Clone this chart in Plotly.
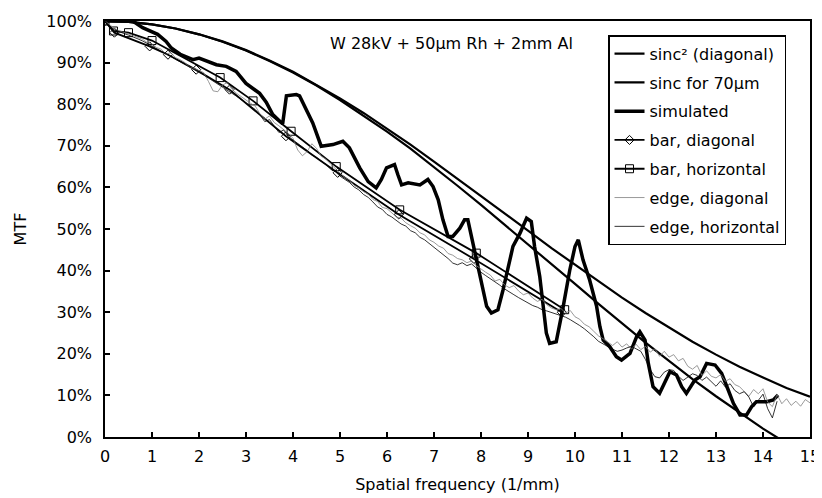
import numpy as np
import plotly.graph_objects as go

# ---------------- data ----------------
freq_sinc = [0, 0.5, 1, 1.5, 2, 2.5, 3, 3.5, 4, 4.5, 5, 5.5, 6, 6.5, 7, 7.5, 8, 8.5, 9, 9.5,
             10, 10.5, 11, 11.5, 12, 12.5, 13, 13.5, 14, 14.5, 15]
sinc2_diag = [1.0, 0.998, 0.992, 0.982, 0.968, 0.951, 0.930, 0.905, 0.878, 0.847, 0.814, 0.779,
              0.742, 0.703, 0.662, 0.621, 0.580, 0.538, 0.496, 0.454, 0.414, 0.374, 0.335,
              0.298, 0.263, 0.229, 0.198, 0.169, 0.143, 0.118, 0.097]
freq_sinc70 = [0, 0.5, 1, 1.5, 2, 2.5, 3, 3.5, 4, 4.5, 5, 5.5, 6, 6.5, 7, 7.5, 8, 8.5, 9, 9.5,
               10, 10.5, 11, 11.5, 12, 12.5, 13, 13.5, 14, 14.5]
sinc_70um = [1.0, 0.998, 0.992, 0.982, 0.968, 0.950, 0.929, 0.904, 0.876, 0.845, 0.810, 0.773,
             0.734, 0.693, 0.649, 0.604, 0.558, 0.511, 0.464, 0.416, 0.368, 0.320, 0.273,
             0.227, 0.183, 0.139, 0.098, 0.058, 0.020, -0.015]

freq_sim = [0, 0.3, 0.59, 0.8, 1.12, 1.3, 1.41, 1.6, 1.87, 2.0, 2.37, 2.58, 2.79, 3.0, 3.15, 3.29,
            3.43, 3.57, 3.72, 3.78, 3.86, 4.07, 4.14, 4.25, 4.42, 4.6, 4.85, 5.06, 5.2, 5.42, 5.6,
            5.77, 5.88, 5.99, 6.16, 6.23, 6.31, 6.45, 6.7, 6.87, 6.98, 7.09, 7.19, 7.3, 7.4, 7.55,
            7.65, 7.72, 7.8, 7.9, 8.01, 8.12, 8.22, 8.36, 8.47, 8.58, 8.68, 8.83, 8.97, 9.07, 9.14,
            9.25, 9.32, 9.39, 9.46, 9.6, 9.75, 9.89, 10.0, 10.07, 10.17, 10.31, 10.46, 10.53, 10.6,
            10.74, 10.88, 10.99, 11.17, 11.31, 11.38, 11.49, 11.56, 11.66, 11.8, 11.91, 12.02,
            12.16, 12.27, 12.37, 12.44, 12.55, 12.66, 12.8, 12.98, 13.12, 13.26, 13.37, 13.51,
            13.65, 13.76, 13.86, 14.08, 14.22, 14.32]
simulated = [100, 100, 100, 98.4, 96.8, 95.1, 93.5, 92.0, 90.7, 91.1, 89.5, 89.1, 87.9, 85.0, 83.7,
             82.6, 80.5, 77.5, 75.9, 75.3, 82.0, 82.3, 82.0, 79.5, 75.5, 69.9, 70.3, 71.1, 69.5,
             64.7, 61.4, 59.9, 61.9, 64.7, 65.5, 63.1, 60.6, 61.1, 60.6, 61.9, 60.2, 57.0, 52.2,
             48.2, 48.2, 50.2, 52.2, 52.2, 48.2, 42.6, 37.0, 31.4, 29.8, 30.6, 35.4, 41.0, 45.8,
             49.0, 52.6, 51.8, 45.8, 38.6, 31.4, 25.0, 22.5, 22.9, 31.4, 40.2, 45.8, 47.4, 42.6,
             37.8, 31.4, 26.5, 23.3, 21.7, 19.3, 18.5, 20.1, 24.1, 25.3, 23.3, 17.7, 12.1, 10.5,
             12.9, 15.7, 14.9, 12.1, 10.5, 11.7, 13.7, 14.5, 17.7, 17.3, 15.3, 11.3, 8.1, 5.3, 5.3,
             7.3, 8.5, 8.5, 8.9, 10.1]

freq_bar_diag = [0, 0.2, 0.95, 1.34, 1.94, 2.65, 3.85, 4.95, 6.25, 7.85, 9.72]
bar_diag = [100, 97.2, 93.9, 91.9, 88.3, 83.5, 72.3, 63.5, 53.5, 42.8, 30.0]
freq_bar_horiz = [0, 0.18, 0.5, 1.0, 2.45, 3.15, 3.96, 4.92, 6.27, 7.9, 9.78]
bar_horiz = [100, 97.6, 97.2, 95.3, 86.4, 80.8, 73.5, 65.0, 54.6, 44.2, 30.6]

edge_diag = [100, 99.0, 98.2, 97.6, 97.3, 96.9, 96.5, 96.0, 95.6, 94.8,
             94.5, 93.6, 93.2, 92.0, 92.4, 91.2, 90.7, 90.0, 88.9, 88.6,
             88.0, 87.6, 85.5, 83.2, 83.0, 84.6, 85.2, 83.6, 82.6, 81.9,
             81.0, 80.2, 79.5, 77.6, 76.4, 77.2, 75.6, 74.8, 73.9, 73.0,
             71.8, 69.0, 67.6, 68.6, 70.5, 69.4, 67.5, 66.8, 65.6, 64.6,
             63.4, 62.4, 61.8, 60.5, 59.9, 59.0, 58.4, 57.1, 56.6, 55.2,
             54.9, 54.0, 52.9, 52.6, 51.5, 50.8, 50.2, 49.1, 48.6, 47.4,
             46.8, 45.9, 45.4, 44.1, 43.7, 42.9, 42.6, 41.9, 42.3, 41.2,
             40.3, 39.6, 38.9, 37.5, 37.9, 36.6, 35.9, 36.4, 35.1, 34.2,
             34.6, 33.4, 32.6, 33.1, 31.8, 31.0, 30.6, 30.9, 29.8, 30.4,
             28.9, 28.3, 27.1, 26.5, 25.4, 24.3, 23.6, 22.8, 22.0, 22.9,
             21.6, 22.4, 21.1, 22.3, 21.0, 21.8, 20.4, 21.2, 19.4, 20.6,
             19.2, 19.8, 18.3, 18.9, 17.0, 16.3, 17.2, 14.8, 15.9, 14.6,
             14.2, 15.0, 13.4, 14.0, 12.6, 12.1, 11.0, 9.8, 11.4, 10.4,
             11.6, 8.4, 7.3, 10.2, 8.0, 9.2, 7.6, 8.6, 7.4, 9.0,
             8.2]
edge_horiz = [100, 98.6, 97.9, 97.4, 97.0, 96.6, 96.2, 95.7, 95.2, 94.6,
              94.0, 93.4, 92.7, 92.1, 91.5, 90.8, 90.2, 89.6, 89.0, 88.3,
              87.8, 87.0, 86.3, 85.6, 84.9, 84.2, 83.4, 82.6, 81.9, 81.1,
              80.3, 79.4, 78.7, 77.4, 75.8, 76.3, 74.6, 73.2, 73.8, 72.3,
              71.4, 70.6, 69.8, 68.9, 67.8, 67.2, 66.3, 65.5, 64.4, 63.8,
              62.7, 61.9, 61.2, 60.1, 59.4, 58.3, 57.6, 56.5, 55.3, 54.7,
              53.5, 52.9, 52.1, 51.2, 50.7, 49.6, 49.1, 48.0, 47.4, 46.5,
              45.6, 44.9, 44.0, 42.9, 41.8, 41.4, 41.9, 41.2, 41.6, 40.5,
              39.6, 38.8, 38.1, 37.2, 36.5, 35.6, 34.8, 34.2, 33.5, 32.8,
              32.3, 31.6, 31.2, 30.6, 30.3, 29.9, 29.6, 29.2, 28.8, 28.2,
              27.6, 26.8, 26.0, 25.1, 24.1, 23.0, 22.3, 21.6, 21.1, 20.6,
              20.9, 21.4, 21.8, 21.2, 20.6, 18.6, 16.2, 14.5, 14.2, 15.6,
              16.2, 16.0, 14.6, 13.6, 14.3, 15.2, 14.8, 13.6, 14.4, 13.2,
              12.2, 13.5, 12.0, 12.8, 11.2, 10.4, 10.9, 9.6, 7.2, 8.8,
              10.3, 6.8, 4.6, 8.6]
freq_edge_diag = [round(0.1 * i, 1) for i in range(len(edge_diag))]
freq_edge_horiz = [round(0.1 * i, 1) for i in range(len(edge_horiz))]

x_ticks = list(range(0, 16))
y_ticks = [i / 10 for i in range(0, 11)]

# ---------------- figure ----------------
FONT = "DejaVu Sans, Liberation Sans, Arial, sans-serif"
FS = 16
fig = go.Figure()

def pct(v):
    return [a / 100 for a in v]

fig.add_trace(go.Scatter(x=freq_sinc, y=sinc2_diag, mode="lines", name="sinc² (diagonal)",
                         legendgroup="a", line=dict(color="black", width=2.2)))
fig.add_trace(go.Scatter(x=freq_sinc70, y=sinc_70um, mode="lines", name="sinc for 70µm",
                         legendgroup="b", line=dict(color="black", width=2.2)))
fig.add_trace(go.Scatter(x=freq_sim, y=pct(simulated), mode="lines", name="simulated",
                         legendgroup="c", line=dict(color="black", width=3.5)))
fig.add_trace(go.Scatter(x=freq_bar_diag, y=pct(bar_diag), mode="lines+markers", name="bar, diagonal",
                         legendgroup="d", line=dict(color="black", width=1.8),
                         marker=dict(symbol="diamond-open", size=7, color="black",
                                     line=dict(width=1, color="black"))))
fig.add_trace(go.Scatter(x=freq_bar_horiz, y=pct(bar_horiz), mode="lines+markers", name="bar, horizontal",
                         legendgroup="e", line=dict(color="black", width=1.8),
                         marker=dict(symbol="square-open", size=8, color="black",
                                     line=dict(width=1, color="black"))))
fig.add_trace(go.Scatter(x=freq_edge_diag, y=pct(edge_diag), mode="lines", name="edge, diagonal",
                         legendgroup="f", line=dict(color="#808080", width=0.8)))
fig.add_trace(go.Scatter(x=freq_edge_horiz, y=pct(edge_horiz), mode="lines", name="edge, horizontal",
                         legendgroup="g", line=dict(color="black", width=0.8)))

fig.add_annotation(text="W 28kV + 50µm Rh + 2mm Al", xref="paper", yref="paper",
                   x=0.492, y=0.947, showarrow=False, xanchor="center", yanchor="middle",
                   font=dict(family=FONT, size=FS, color="black"))

axis_common = dict(showline=True, linecolor="black", linewidth=1.5, mirror=True,
                   ticks="inside", ticklen=5, tickcolor="black", tickwidth=1.5,
                   showgrid=False, zeroline=False, automargin=False,
                   tickfont=dict(family=FONT, size=FS, color="black"))

fig.update_xaxes(range=[0, 15], tickvals=x_ticks, ticktext=[str(t) for t in x_ticks],
                 ticklabelstandoff=4,
                 title=dict(text="Spatial frequency (1/mm)", standoff=14,
                            font=dict(family=FONT, size=FS, color="black")),
                 **axis_common)
fig.update_yaxes(range=[0, 1], tickvals=y_ticks, tickformat=".0%",
                 ticklabelstandoff=8,
                 title=dict(text="MTF", standoff=16,
                            font=dict(family=FONT, size=FS, color="black")),
                 **axis_common)

# the page adds an 8 px body margin, so the figure is sized/offset to compensate
fig.update_layout(
    width=814, height=490,
    margin=dict(l=97, r=12, t=13, b=61),
    paper_bgcolor="white", plot_bgcolor="white",
    showlegend=True,
    legend=dict(x=0.7135, y=0.966, xanchor="left", yanchor="top",
                bgcolor="white", bordercolor="black", borderwidth=1.5,
                font=dict(family=FONT, size=FS, color="black"),
                itemwidth=30, tracegroupgap=5, traceorder="grouped"),
    font=dict(family=FONT, color="black"),
)

fig.write_html("out.html")
